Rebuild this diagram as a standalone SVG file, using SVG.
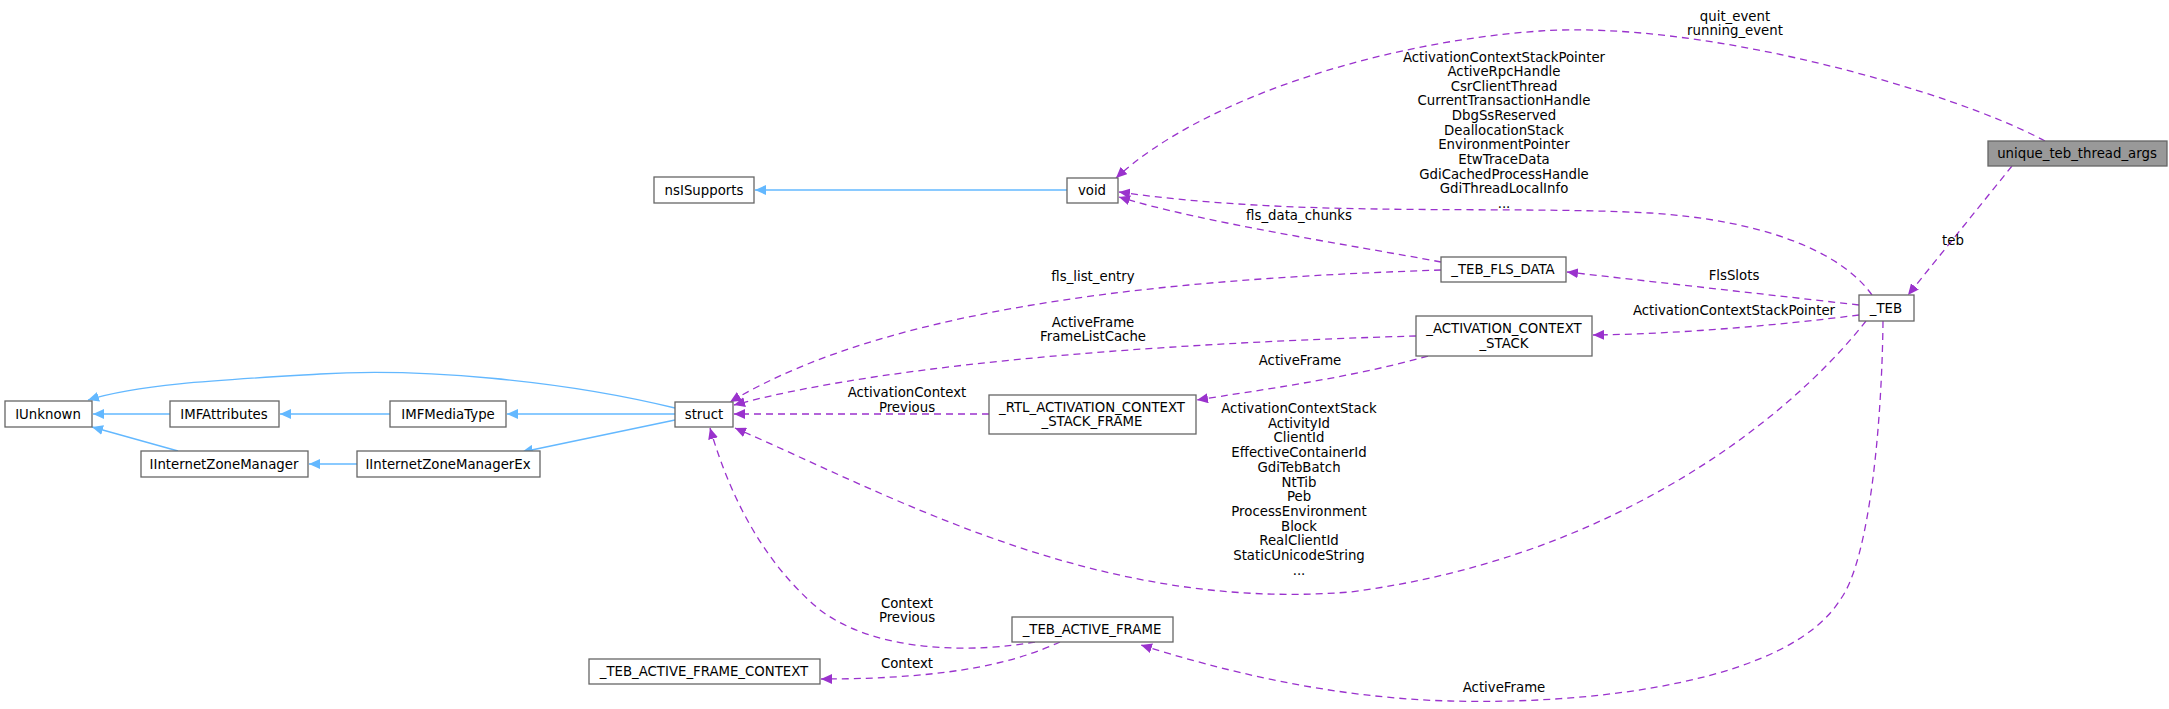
<svg xmlns="http://www.w3.org/2000/svg" width="2169" height="709" viewBox="0 0 2169 709">
<style>
.n rect{fill:#fff;stroke:#666;stroke-width:1.3}
text{font-family:"DejaVu Sans","Liberation Sans",sans-serif;font-size:13.3px;fill:#000;text-anchor:middle}
.b{fill:none;stroke:#63b8ff;stroke-width:1.3}
.p{fill:none;stroke:#9a32cd;stroke-width:1.3;stroke-dasharray:7,5}
</style>
<defs>
<marker id="ab" markerWidth="12" markerHeight="10" refX="11" refY="5" orient="auto" markerUnits="userSpaceOnUse"><path d="M0,0 L11,5 L0,10 Z" fill="#63b8ff"/></marker>
<marker id="ap" markerWidth="12" markerHeight="10" refX="11" refY="5" orient="auto" markerUnits="userSpaceOnUse"><path d="M0,0 L11,5 L0,10 Z" fill="#9a32cd"/></marker>
</defs>
<rect width="2169" height="709" fill="#fff"/>
<g id="edges">
<path class="b" marker-end="url(#ab)" d="M1067,190 L755,190"/>
<path class="b" marker-end="url(#ab)" d="M170,414 L93,414"/>
<path class="b" marker-end="url(#ab)" d="M390,414 L280,414"/>
<path class="b" marker-end="url(#ab)" d="M675,414 L507,414"/>
<path class="b" marker-end="url(#ab)" d="M675,408 C560,380 420,368 320,374 C220,380 140,384 88,400"/>
<path class="b" marker-end="url(#ab)" d="M178,451 L92,427"/>
<path class="b" marker-end="url(#ab)" d="M357,464 L309,464"/>
<path class="b" marker-end="url(#ab)" d="M675,420 L522,452"/>
<path class="p" marker-end="url(#ap)" d="M2045,141 C1950,90 1700,20 1540,31 C1380,42 1200,100 1116,178"/>
<path class="p" marker-end="url(#ap)" d="M2012,166 L1908,295"/>
<path class="p" marker-end="url(#ap)" d="M1872,295 C1840,250 1760,220 1650,213 C1500,205 1300,218 1119,192"/>
<path class="p" marker-end="url(#ap)" d="M1441,262 C1350,245 1200,222 1119,197"/>
<path class="p" marker-end="url(#ap)" d="M1859,305 L1567,272"/>
<path class="p" marker-end="url(#ap)" d="M1441,270 C1200,278 900,300 730,402"/>
<path class="p" marker-end="url(#ap)" d="M1416,336 C1200,342 900,360 734,405"/>
<path class="p" marker-end="url(#ap)" d="M1428,356 C1350,378 1260,390 1197,400"/>
<path class="p" marker-end="url(#ap)" d="M1859,315 C1780,325 1680,334 1593,335"/>
<path class="p" marker-end="url(#ap)" d="M989,414 L734,414"/>
<path class="p" marker-end="url(#ap)" d="M1866,321 C1780,430 1600,560 1350,592 C1100,612 900,500 735,428"/>
<path class="p" marker-end="url(#ap)" d="M1883,321 C1882,420 1870,560 1840,600 C1790,680 1600,705 1450,701 C1330,698 1220,670 1141,645"/>
<path class="p" marker-end="url(#ap)" d="M1035,642 C980,652 880,655 820,610 C760,560 728,490 710,428"/>
<path class="p" marker-end="url(#ap)" d="M1060,642 C1020,660 960,679 821,679"/>
<text x="1735" y="21">quit_event</text>
<text x="1735" y="35">running_event</text>
<text x="1504" y="62">ActivationContextStackPointer</text>
<text x="1504" y="76">ActiveRpcHandle</text>
<text x="1504" y="91">CsrClientThread</text>
<text x="1504" y="105">CurrentTransactionHandle</text>
<text x="1504" y="120">DbgSsReserved</text>
<text x="1504" y="135">DeallocationStack</text>
<text x="1504" y="149">EnvironmentPointer</text>
<text x="1504" y="164">EtwTraceData</text>
<text x="1504" y="179">GdiCachedProcessHandle</text>
<text x="1504" y="193">GdiThreadLocalInfo</text>
<text x="1504" y="208">...</text>
<text x="1953" y="245">teb</text>
<text x="1299" y="220">fls_data_chunks</text>
<text x="1093" y="281">fls_list_entry</text>
<text x="1734" y="280">FlsSlots</text>
<text x="1734" y="315">ActivationContextStackPointer</text>
<text x="1093" y="327">ActiveFrame</text>
<text x="1093" y="341">FrameListCache</text>
<text x="1300" y="365">ActiveFrame</text>
<text x="907" y="397">ActivationContext</text>
<text x="907" y="412">Previous</text>
<text x="1299" y="413">ActivationContextStack</text>
<text x="1299" y="428">ActivityId</text>
<text x="1299" y="442">ClientId</text>
<text x="1299" y="457">EffectiveContainerId</text>
<text x="1299" y="472">GdiTebBatch</text>
<text x="1299" y="487">NtTib</text>
<text x="1299" y="501">Peb</text>
<text x="1299" y="516">ProcessEnvironment</text>
<text x="1299" y="531">Block</text>
<text x="1299" y="545">RealClientId</text>
<text x="1299" y="560">StaticUnicodeString</text>
<text x="1299" y="575">...</text>
<text x="907" y="608">Context</text>
<text x="907" y="622">Previous</text>
<text x="907" y="668">Context</text>
<text x="1504" y="692">ActiveFrame</text>
</g>
<g id="unique_teb_thread_args"><rect x="1988" y="141" width="179" height="25" fill="#999" stroke="#666" stroke-width="1.3"/><text x="2077" y="158">unique_teb_thread_args</text></g>
<g id="_TEB" class="n"><rect x="1859" y="295" width="55" height="26"/><text x="1886" y="313">_TEB</text></g>
<g id="void" class="n"><rect x="1067" y="178" width="51" height="25"/><text x="1092" y="195">void</text></g>
<g id="nsISupports" class="n"><rect x="654" y="177" width="100" height="26"/><text x="704" y="195">nsISupports</text></g>
<g id="_TEB_FLS_DATA" class="n"><rect x="1441" y="257" width="125" height="25"/><text x="1503" y="274">_TEB_FLS_DATA</text></g>
<g id="_ACTIVATION_CONTEXT_STACK" class="n"><rect x="1416" y="316" width="176" height="40"/><text x="1504" y="333">_ACTIVATION_CONTEXT</text><text x="1504" y="348">_STACK</text></g>
<g id="_RTL_ACTIVATION_CONTEXT_STACK_FRAME" class="n"><rect x="989" y="395" width="207" height="39"/><text x="1092" y="412">_RTL_ACTIVATION_CONTEXT</text><text x="1092" y="426">_STACK_FRAME</text></g>
<g id="struct" class="n"><rect x="675" y="402" width="58" height="25"/><text x="704" y="419">struct</text></g>
<g id="IMFMediaType" class="n"><rect x="390" y="401" width="116" height="26"/><text x="448" y="419">IMFMediaType</text></g>
<g id="IMFAttributes" class="n"><rect x="170" y="401" width="109" height="26"/><text x="224" y="419">IMFAttributes</text></g>
<g id="IUnknown" class="n"><rect x="5" y="401" width="87" height="26"/><text x="48" y="419">IUnknown</text></g>
<g id="IInternetZoneManager" class="n"><rect x="141" y="451" width="167" height="26"/><text x="224" y="469">IInternetZoneManager</text></g>
<g id="IInternetZoneManagerEx" class="n"><rect x="357" y="451" width="183" height="26"/><text x="448" y="469">IInternetZoneManagerEx</text></g>
<g id="_TEB_ACTIVE_FRAME" class="n"><rect x="1012" y="617" width="161" height="25"/><text x="1092" y="634">_TEB_ACTIVE_FRAME</text></g>
<g id="_TEB_ACTIVE_FRAME_CONTEXT" class="n"><rect x="589" y="659" width="231" height="25"/><text x="704" y="676">_TEB_ACTIVE_FRAME_CONTEXT</text></g>
</svg>
